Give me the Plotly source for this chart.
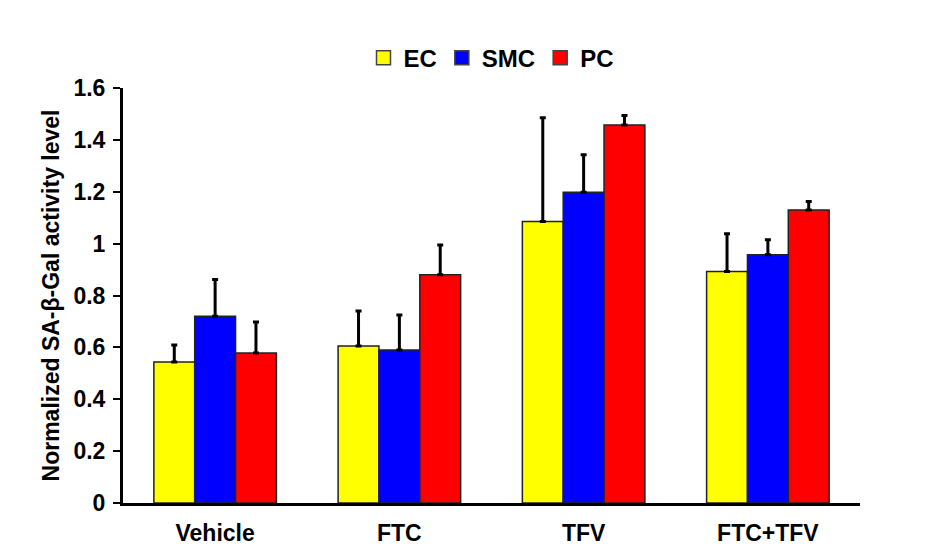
import plotly.graph_objects as go

categories = ["Vehicle", "FTC", "TFV", "FTC+TFV"]
series_names = ["EC", "SMC", "PC"]
colors = ["#FFFF00", "#0000FF", "#FF0000"]
ec_values = [0.544, 0.605, 1.085, 0.893]
smc_values = [0.720, 0.590, 1.198, 0.957]
pc_values = [0.578, 0.880, 1.457, 1.130]
ec_err = [0.065, 0.135, 0.400, 0.145]
smc_err = [0.142, 0.135, 0.145, 0.058]
pc_err = [0.120, 0.115, 0.037, 0.032]
y_ticks = [0, 0.2, 0.4, 0.6, 0.8, 1, 1.2, 1.4, 1.6]
y_tick_labels = ["0", "0.2", "0.4", "0.6", "0.8", "1", "1.2", "1.4", "1.6"]

values = [ec_values, smc_values, pc_values]
errs = [ec_err, smc_err, pc_err]

font_family = "Liberation Sans, Arial, sans-serif"

fig = go.Figure()
for name, col, vals, err in zip(series_names, colors, values, errs):
    fig.add_trace(go.Bar(
        x=categories, y=vals, name=name, showlegend=False,
        marker=dict(color=col, line=dict(color="#222222", width=1.5)),
        error_y=dict(type="data", symmetric=False, array=err,
                     arrayminus=[0] * len(err), color="black",
                     thickness=3, width=3),
    ))
# legend entries (square swatches)
for name, col in zip(series_names, colors):
    fig.add_trace(go.Scatter(
        x=[None], y=[None], mode="markers", name=name,
        marker=dict(symbol="square", size=14, color=col,
                    line=dict(color="#444444", width=1.5)),
    ))

fig.update_layout(
    width=933, height=559,
    barmode="group", bargap=0.335, bargroupgap=0,
    plot_bgcolor="white", paper_bgcolor="white",
    margin=dict(l=115, r=81, t=80, b=64, autoexpand=False),
    font=dict(family=font_family, color="black"),
    legend=dict(orientation="h", x=0.5, xanchor="center", y=1.072, yanchor="middle",
                font=dict(size=24, family=font_family, color="black", weight="bold"),
                itemwidth=30, traceorder="normal"),
    showlegend=True,
)
fig.update_yaxes(
    range=[0, 1.6], tickvals=y_ticks, ticktext=y_tick_labels,
    showgrid=False, zeroline=False,
    showline=True, linecolor="black", linewidth=3,
    ticks="outside", ticklen=7, tickwidth=2, tickcolor="black",
    ticklabelstandoff=3,
    tickfont=dict(size=23, family=font_family, weight="bold"),
    title=dict(text="Normalized SA-β-Gal activity level",
               font=dict(size=23, family=font_family, weight="bold"), standoff=8),
    automargin=False,
)
fig.update_xaxes(
    showgrid=False, showline=True, linecolor="black", linewidth=3,
    ticks="", ticklabelstandoff=7,
    tickfont=dict(size=23, family=font_family, weight="bold"),
    automargin=False,
)

fig.write_html("out.html")
